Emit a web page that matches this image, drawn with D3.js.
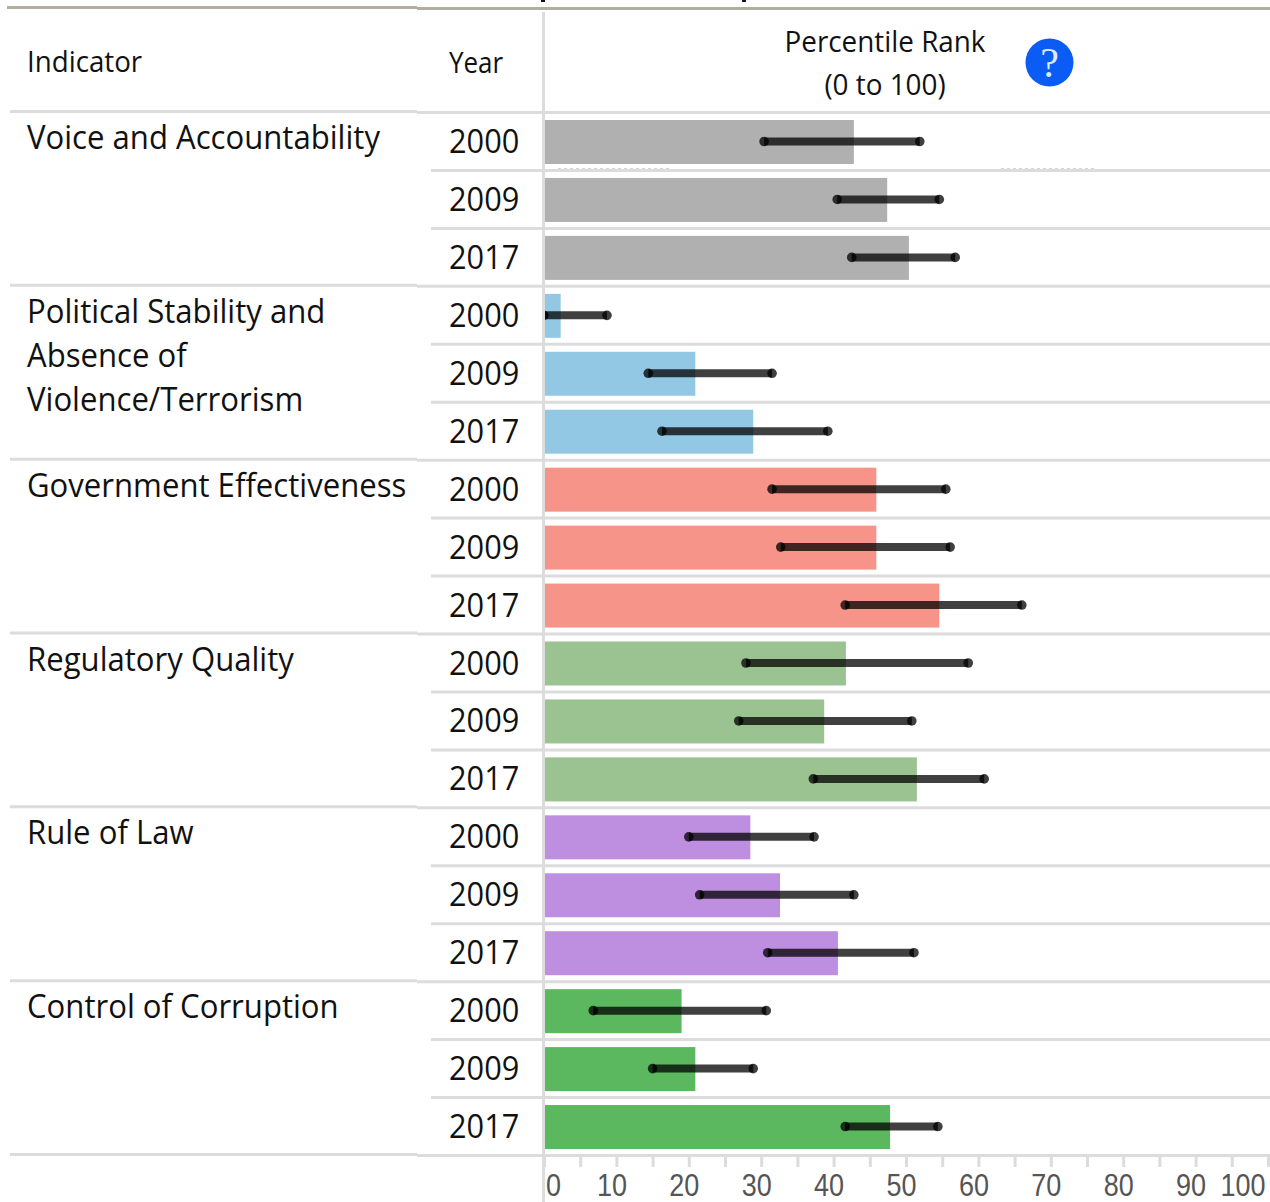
<!DOCTYPE html>
<html>
<head>
<meta charset="utf-8">
<script src="https://cdn.jsdelivr.net/npm/d3@7"></script>
<style>
  html, body { margin: 0; padding: 0; background: #fff; }
  svg { display: block; }
  text { font-family: "Open Sans", sans-serif; fill: #111; }
</style>
</head>
<body>
<svg id="chart"></svg>
<script>
const indicators = [
  ["Voice and Accountability"],
  ["Political Stability and", "Absence of", "Violence/Terrorism"],
  ["Government Effectiveness"],
  ["Regulatory Quality"],
  ["Rule of Law"],
  ["Control of Corruption"]
];
const years = [2000, 2009, 2017];
const colors = ["#b0b0b0", "#92c8e3", "#f79489", "#9bc291", "#be8ee0", "#5cb85f"];

// one value per indicator/year, in reading order
const rank = [42.8, 47.4, 50.4, 2.3, 20.9, 28.9, 45.9, 45.9, 54.6, 41.7, 38.7, 51.5, 28.5, 32.6, 40.6, 19, 20.9, 47.8];
const lower = [30.4, 40.5, 42.5, 0, 14.4, 16.3, 31.5, 32.7, 41.6, 27.9, 26.9, 37.2, 20, 21.5, 30.9, 6.8, 15, 41.6];
const upper = [51.9, 54.6, 56.8, 8.7, 31.5, 39.2, 55.5, 56.1, 66, 58.6, 50.8, 60.8, 37.3, 42.8, 51.1, 30.7, 28.9, 54.4];

const width = 1270;
const height = 1202;
const lineColor = "#dcdcdc";

const svg = d3.select("#chart").attr("width", width).attr("height", height);

// Scales
const rows = d3.range(rank.length);
const xScale = d3.scaleLinear().domain([0, 100]).range([544, 1268]);
const yScale = d3.scaleBand().domain(rows).range([112, 1155]);

// Squeeze text a little, the original font is narrower than Open Sans
function fit(sel, k) {
  sel.each(function () {
    d3.select(this).attr("textLength", this.getComputedTextLength() * k).attr("lengthAdjust", "spacingAndGlyphs");
  });
}

// Whiskers stop at the axis line
svg.append("clipPath")
  .attr("id", "plot-clip")
  .append("rect")
  .attr("x", 545)
  .attr("y", 100)
  .attr("width", width - 545)
  .attr("height", height - 100);

// Top rule
svg.append("rect").attr("x", 7).attr("y", 6).attr("width", 410).attr("height", 3).attr("fill", "#b3ad9f");
svg.append("rect").attr("x", 417).attr("y", 7).attr("width", width - 417).attr("height", 3).attr("fill", "#b3ad9f");

// Clipped marks left over at the top edge
svg.selectAll(".top-mark")
  .data([541, 742])
  .enter()
  .append("rect")
  .attr("class", "top-mark")
  .attr("x", (d) => d)
  .attr("y", 0)
  .attr("width", 4)
  .attr("height", 2)
  .attr("fill", "#111");

// Row separators
svg.selectAll(".row-line")
  .data(d3.range(rank.length + 1))
  .enter()
  .append("line")
  .attr("class", "row-line")
  .attr("x1", (d) => (d % 3 === 0 ? 417 : 431))
  .attr("x2", width)
  .attr("y1", (d) => yScale.step() * d + 112.5)
  .attr("y2", (d) => yScale.step() * d + 112.5)
  .attr("stroke", lineColor)
  .attr("stroke-width", 3);

svg.selectAll(".group-line")
  .data(d3.range(indicators.length + 1))
  .enter()
  .append("line")
  .attr("class", "group-line")
  .attr("x1", 10)
  .attr("x2", 417)
  .attr("y1", (d) => yScale.step() * d * 3 + 111.5)
  .attr("y2", (d) => yScale.step() * d * 3 + 111.5)
  .attr("stroke", lineColor)
  .attr("stroke-width", 3);

// Faint dotted remains under the first bar
svg.selectAll(".dots")
  .data([[558, 670], [1001, 1096]])
  .enter()
  .append("line")
  .attr("class", "dots")
  .attr("x1", (d) => d[0])
  .attr("x2", (d) => d[1])
  .attr("y1", 168.5)
  .attr("y2", 168.5)
  .attr("stroke", "#d5d5d5")
  .attr("stroke-dasharray", "3 3");

// Header
const header = svg.append("g").attr("font-size", 29);
header.append("text").attr("x", 27).attr("y", 72).text("Indicator").call(fit, 0.955);
header.append("text").attr("x", 449).attr("y", 73).text("Year").call(fit, 0.895);
header.append("text").attr("x", 885).attr("y", 52).attr("text-anchor", "middle").text("Percentile Rank").call(fit, 0.96);
header.append("text").attr("x", 885).attr("y", 95).attr("text-anchor", "middle").text("(0 to 100)").call(fit, 0.96);

// Help icon
svg.append("circle").attr("cx", 1049.5).attr("cy", 62.5).attr("r", 24).attr("fill", "#0b5cf5");
svg.append("text")
  .attr("x", 1049.5)
  .attr("y", 77)
  .attr("text-anchor", "middle")
  .attr("font-size", 42)
  .style("font-family", "'Liberation Serif', serif")
  .style("fill", "#dfe9ff")
  .text("?");

// Indicator names
const names = svg.selectAll(".indicator")
  .data(indicators)
  .enter()
  .append("text")
  .attr("class", "indicator")
  .attr("font-size", 32);

names.selectAll("tspan")
  .data((d, i) => d.map((line, j) => ({ line, j, i })))
  .enter()
  .append("tspan")
  .attr("x", 27)
  .attr("y", (d) => yScale(d.i * 3) + 37 + d.j * 44)
  .text((d) => d.line)
  .call(fit, 0.972);

// Year labels
svg.selectAll(".year")
  .data(rows)
  .enter()
  .append("text")
  .attr("class", "year")
  .attr("x", 449)
  .attr("y", (d) => yScale(d) + 41)
  .attr("font-size", 32)
  .text((d) => years[d % 3])
  .call(fit, 0.96);

// Bars
svg.selectAll(".bar")
  .data(rows)
  .enter()
  .append("rect")
  .attr("class", "bar")
  .attr("x", xScale(0))
  .attr("y", (d) => yScale(d) + 8)
  .attr("width", (d) => xScale(rank[d]) - xScale(0))
  .attr("height", 44)
  .attr("fill", (d) => colors[Math.floor(d / 3)]);

// Vertical axis line
svg.append("line")
  .attr("x1", 543.5)
  .attr("x2", 543.5)
  .attr("y1", 12)
  .attr("y2", height)
  .attr("stroke", lineColor)
  .attr("stroke-width", 3);

// Confidence ranges, line and end caps overlap so the caps come out darker
const ranges = svg.selectAll(".range")
  .data(rows)
  .enter()
  .append("g")
  .attr("class", "range")
  .attr("clip-path", "url(#plot-clip)")
  .append("g")
  .attr("transform", (d) => `translate(0, ${yScale(d) + 29.5})`);

ranges.append("line")
  .attr("x1", (d) => xScale(lower[d]))
  .attr("x2", (d) => xScale(upper[d]))
  .attr("stroke", "#000")
  .attr("stroke-opacity", 0.75)
  .attr("stroke-width", 8);

ranges.selectAll("circle")
  .data((d) => [lower[d], upper[d]])
  .enter()
  .append("circle")
  .attr("cx", (d) => xScale(d))
  .attr("r", 4.8)
  .attr("fill", "#000")
  .attr("fill-opacity", 0.75);

// X axis
const xAxis = d3.axisBottom(xScale)
  .tickValues(d3.range(0, 101, 5))
  .tickSize(12)
  .tickFormat((d) => (d % 10 === 0 ? d : ""));

const axisG = svg.append("g")
  .attr("transform", "translate(0, 1155)")
  .call(xAxis);

axisG.select(".domain").remove();
axisG.selectAll(".tick line").attr("stroke", lineColor).attr("stroke-width", 3);
axisG.selectAll(".tick text")
  .attr("y", 40.5)
  .attr("dy", 0)
  .attr("dx", (d) => (d === 0 ? 9 : d === 100 ? -25.5 : -5))
  .attr("font-size", 31)
  .style("font-family", "'Liberation Sans', sans-serif")
  .style("fill", "#555")
  .call(fit, 0.87);
</script>
</body>
</html>
